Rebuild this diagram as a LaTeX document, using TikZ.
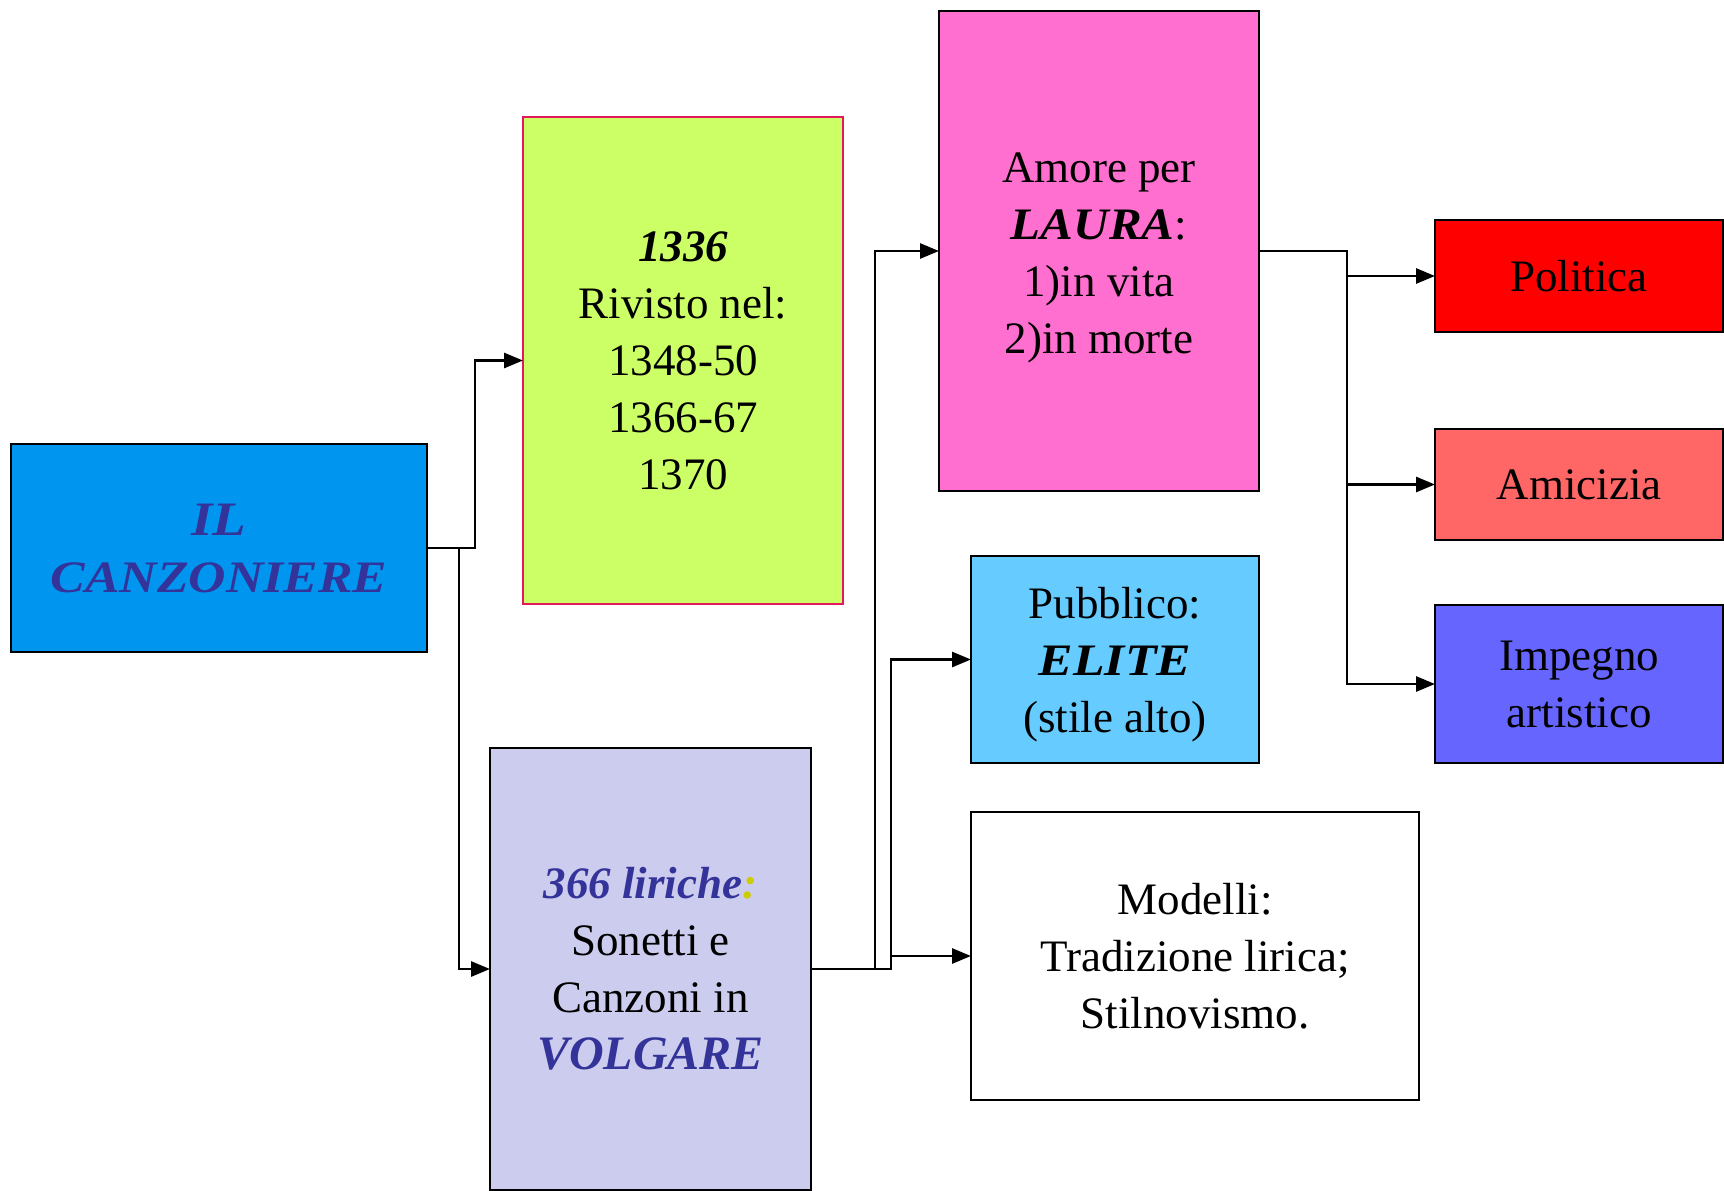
\documentclass[tikz,border=0pt]{standalone}
\usepackage{fontspec}
\setmainfont{Liberation Serif}
\usetikzlibrary{arrows.meta}
\definecolor{cblue}{RGB}{0,150,240}
\definecolor{cgreen}{RGB}{204,255,102}
\definecolor{cgreenborder}{RGB}{228,24,92}
\definecolor{cpink}{RGB}{255,111,207}
\definecolor{clav}{RGB}{204,204,238}
\definecolor{csky}{RGB}{102,204,255}
\definecolor{cred}{RGB}{255,0,0}
\definecolor{csalmon}{RGB}{255,102,102}
\definecolor{cviolet}{RGB}{102,102,255}
\definecolor{ctext}{RGB}{51,51,153}
\definecolor{colon}{RGB}{204,204,0}
\newcommand{\bi}[2][1]{\scalebox{#1}[1]{\textbf{\textit{#2}}}}
\begin{document}
\begin{tikzpicture}[x=1pt,y=-1pt,
  box/.style={draw=black, line width=2.6pt, inner sep=0pt, outer sep=0pt,
    align=center, text=black, font=\fontsize{45}{57}\selectfont},
  txt/.style={inner sep=0pt, align=center, text=black, font=\fontsize{45}{57}\selectfont},
  arr/.style={line width=2.8pt, -{Triangle[length=19pt,width=15pt]}}]
\useasboundingbox (0,0) rectangle (1724,1191);

\node[box, fill=cblue, minimum width=416pt, minimum height=208pt] (canz) at (219,548)
  {\fontsize{48}{57}\selectfont\color{ctext}\bi[1.15]{IL}\\\color{ctext}\bi[1.15]{CANZONIERE}};

\node[box, fill=cgreen, draw=cgreenborder, minimum width=320pt, minimum height=487pt] (green) at (683,360.5)
  {\bi{1336}\\Rivisto nel:\\1348-50\\1366-67\\1370};

\node[box, fill=clav, minimum width=321pt, minimum height=442pt] (volg) at (650.5,969)
  {{\color{ctext}\bi{366 liriche}}{\color{colon}\textbf{\textit{:}}}\\Sonetti e\\Canzoni in\\{\fontsize{48}{57}\selectfont\color{ctext}\bi{VOLGARE}}};

\node[box, fill=cpink, minimum width=320pt, minimum height=480pt] (pink) at (1099,251) {};
\node[txt] (pinktext) at ([yshift=-7pt]pink.center)
  {Amore per\\\bi[1.09]{LAURA}:\\1)in vita\\2)in morte};

\node[box, fill=csky, minimum width=288pt, minimum height=207pt] (pub) at (1115,659.5) {};
\node[txt] (pubtext) at ([yshift=-5pt]pub.center)
  {Pubblico:\\\bi[1.15]{ELITE}\\(stile alto)};

\node[box, fill=white, minimum width=448pt, minimum height=288pt] (mod) at (1195,956)
  {Modelli:\\Tradizione lirica;\\Stilnovismo.};

\node[box, fill=cred, minimum width=288pt, minimum height=112pt] (pol) at (1579,276) {Politica};
\node[box, fill=csalmon, minimum width=288pt, minimum height=111pt] (ami) at (1579,484.5) {Amicizia};
\node[box, fill=cviolet, minimum width=288pt, minimum height=158pt] (imp) at (1579,684) {Impegno\\artistico};

\draw[arr] (canz.east) -- ++(48,0) |- (green.west);
\draw[arr] (canz.east) -- ++(32,0) |- (volg.west);
\draw[arr] (volg.east) -- ++(64,0) |- (pink.west);
\draw[arr] (volg.east) -- ++(80,0) |- (pub.west);
\draw[arr] (volg.east) -- ++(80,0) |- (mod.west);
\draw[arr] (pink.east) -- ++(88,0) |- (pol.west);
\draw[arr] (pink.east) -- ++(88,0) |- (ami.west);
\draw[arr] (pink.east) -- ++(88,0) |- (imp.west);
\end{tikzpicture}
\end{document}
